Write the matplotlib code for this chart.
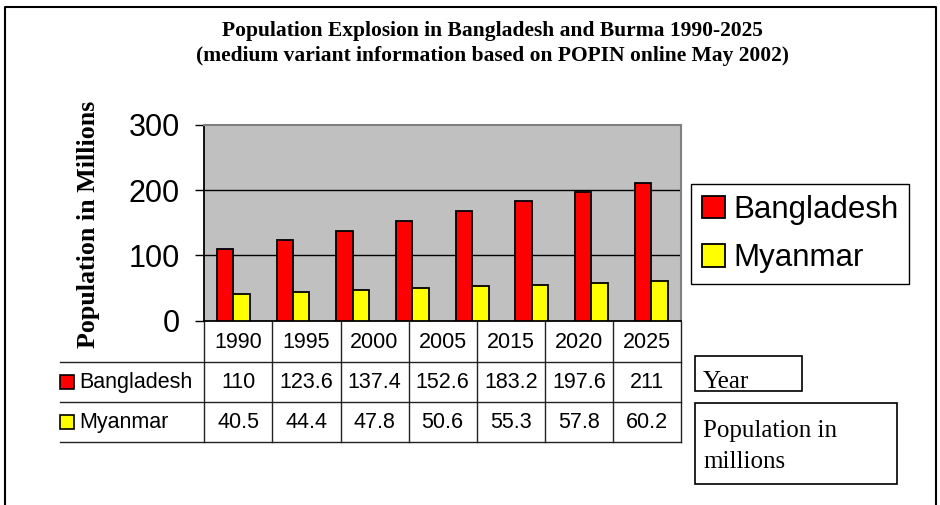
import matplotlib.pyplot as plt
import numpy as np
from matplotlib.lines import Line2D
from matplotlib.patches import Rectangle

W, H = 940, 505

# bars (the chart itself still holds a 2010 group)
bar_years = [1990, 1995, 2000, 2005, 2010, 2015, 2020, 2025]
bar_bangladesh = [110, 123.6, 137.4, 152.6, 168.1, 183.2, 197.6, 211]
bar_myanmar = [40.5, 44.4, 47.8, 50.6, 53.1, 55.3, 57.8, 60.2]

# data table under the chart
table_years = ["1990", "1995", "2000", "2005", "2015", "2020", "2025"]
table_bangladesh = ["110", "123.6", "137.4", "152.6", "183.2", "197.6", "211"]
table_myanmar = ["40.5", "44.4", "47.8", "50.6", "55.3", "57.8", "60.2"]

series_names = ["Bangladesh", "Myanmar"]
series_colors = ["#FF0000", "#FFFF00"]

title_lines = [
    "Population Explosion in Bangladesh and Burma 1990-2025",
    "(medium variant information based on POPIN online May 2002)",
]
y_label = "Population in Millions"

SANS = "Liberation Sans"
SERIF = "Liberation Serif"


def fx(px):
    return px / W


def fy(py):
    return 1 - py / H


def fig_rect(x0, y0, x1, y1, **kw):
    return Rectangle((fx(x0), fy(y1)), fx(x1) - fx(x0), fy(y0) - fy(y1),
                     transform=fig.transFigure, fill=False, **kw)


fig = plt.figure(figsize=(W / 100, H / 100), dpi=100)

# outer frame (open at the bottom)
fig.add_artist(Line2D([fx(5), fx(5), fx(936), fx(936)], [fy(505), fy(7), fy(7), fy(505)],
                      transform=fig.transFigure, color="black", lw=1.5))

fig.text(fx(492), fy(36), title_lines[0], ha="center", va="baseline",
         family=SERIF, weight="bold", fontsize=15.5)
fig.text(fx(492), fy(61.5), title_lines[1], ha="center", va="baseline",
         family=SERIF, weight="bold", fontsize=15.5)
fig.text(fx(88), fy(224), y_label, rotation=90, ha="center", va="center",
         family=SERIF, weight="bold", fontsize=18.7)

# plot area
ax = fig.add_axes([fx(203.5), fy(320.7), fx(681) - fx(203.5), fy(125) - fy(320.7)])
ax.set_facecolor("#C0C0C0")
x = np.arange(len(bar_years))
w = 0.275
bars_b = ax.bar(x - w / 2, bar_bangladesh, w, color=series_colors[0], edgecolor="black",
                lw=1.3, zorder=3, label=series_names[0])
bars_m = ax.bar(x + w / 2, bar_myanmar, w, color=series_colors[1], edgecolor="black",
                lw=1.3, zorder=3, label=series_names[1])
for v in (100, 200):
    ax.axhline(v, color="black", lw=1, zorder=1)
ax.set_xlim(-0.5, len(bar_years) - 0.5)
ax.set_ylim(0, 300)
ax.set_yticks([0, 100, 200, 300])
ax.set_xticks([])
ax.tick_params(axis="y", length=6.5, width=1, pad=10.5, labelsize=22)
for lab in ax.get_yticklabels():
    lab.set_family(SANS)
for side in ("top", "right"):
    ax.spines[side].set_color("#808080")
    ax.spines[side].set_linewidth(1.5)
for side in ("left", "bottom"):
    ax.spines[side].set_color("black")
    ax.spines[side].set_linewidth(1.3)

# data table
col_w = (681 - 204.3) / len(table_years)
left_units = (204.3 - 60) / col_w
ax_t = fig.add_axes([fx(60), fy(441.7), fx(681) - fx(60), fy(322.3) - fy(441.7)])
ax_t.set_xlim(-left_units, len(table_years))
ax_t.set_ylim(3, 0)
ax_t.axis("off")
ncol = len(table_years)
for r in (1, 2, 3):
    ax_t.plot([-left_units, ncol], [r, r], color="#222222", lw=1, clip_on=False)
for c in range(ncol + 1):
    ax_t.plot([c, c], [0, 3], color="#222222", lw=1, clip_on=False)
rows = [table_years, table_bangladesh, table_myanmar]
for r, row in enumerate(rows):
    for c, val in enumerate(row):
        ax_t.text(c + 0.5, r + 0.52, val, ha="center", va="center", family=SANS, fontsize=15.5)
sq_w = 14 / col_w
sq_h = 14 / ((441.7 - 322.3) / 3)
for r, (name, color) in enumerate(zip(series_names, series_colors), start=1):
    ax_t.add_patch(Rectangle((-left_units, r + 0.5 - sq_h / 2), sq_w, sq_h, facecolor=color,
                             edgecolor="black", lw=1.2, clip_on=False))
    ax_t.text(-left_units + sq_w + 5 / col_w, r + 0.52, name, ha="left", va="center",
              family=SANS, fontsize=15.5)

# legend
leg = fig.legend(handles=[bars_b, bars_m], labels=series_names, loc="upper left",
                 bbox_to_anchor=(fx(691), fy(184)), borderaxespad=0, fancybox=False,
                 edgecolor="black", framealpha=1, prop={"family": SANS, "size": 22.5},
                 handlelength=0.74, handleheight=0.74, handletextpad=0.25,
                 borderpad=0.35, labelspacing=0.58)
leg.get_frame().set_linewidth(1)

# side note boxes
fig.add_artist(fig_rect(695, 356, 801.7, 390.7, edgecolor="black", lw=1.2))
fig.text(fx(703), fy(388), "Year", ha="left", va="baseline", family=SERIF, fontsize=18)
fig.add_artist(fig_rect(695, 403.3, 896.7, 484.3, edgecolor="black", lw=1.2))
fig.text(fx(703), fy(437), "Population in", ha="left", va="baseline", family=SERIF, fontsize=18)
fig.text(fx(703), fy(468), "millions", ha="left", va="baseline", family=SERIF, fontsize=18)

fig.savefig("out.png", dpi=100)
